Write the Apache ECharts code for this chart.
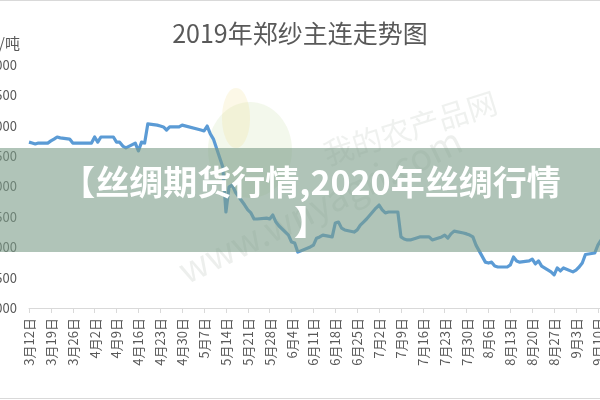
<!DOCTYPE html>
<html><head><meta charset="utf-8">
<script src="https://cdn.jsdelivr.net/npm/echarts@6/dist/echarts.min.js"></script>
<style>html,body{margin:0;padding:0;background:#fff}#c{width:600px;height:400px}</style>
</head><body><div id="c"></div>
<script>
const chartTitle = '2019年郑纱主连走势图';
const unitName = '元/吨';
const yTicks = [20000, 20500, 21000, 21500, 22000, 22500, 23000, 23500, 24000];
const bannerText = '【丝绸期货行情,2020年丝绸行情\n】';
const watermark1 = '我的农产品网';
const watermark2 = 'www.wnyagri.com';

const marDays = [12,13,14,15,18,19,20,21,22,25,26,27,28,29];
const marPrices = [22730,22715,22700,22715,22715,22750,22780,22815,22800,22780,22715,22715,22715,22715];
const aprDays = [1,2,3,4,8,9,10,11,12,15,16,17,18,19,22,23,24,25,26,29,30];
const aprPrices = [22715,22815,22730,22815,22815,22730,22730,22665,22635,22715,22585,22730,22715,23030,23010,22995,22980,22930,22980,22980,23010];
const mayDays = [6,7,8,9,10,13,14,15,16,17,20,21,22,23,24,27,28,29,30,31];
const mayPrices = [22930,22915,22995,22865,22780,22320,21580,21990,22025,21910,21695,21615,21565,21465,21465,21480,21465,21530,21415,21350];
const junDays = [3,4,5,6,10,11,12,13,14,17,18,19,20,21,24,25,26,27,28];
const junPrices = [21200,21085,21070,20920,21005,21035,21150,21170,21200,21170,21400,21415,21315,21285,21250,21285,21365,21415,21465];
const julDays = [1,2,3,4,5,8,9,10,11,12,15,16,17,18,19,22,23,24,25,26,29,30,31];
const julPrices = [21645,21695,21615,21565,21580,21580,21170,21135,21120,21120,21170,21170,21170,21170,21120,21170,21200,21150,21220,21265,21235,21220,21200];
const augDays = [1,2,5,6,7,8,9,12,13,14,15,16,19,20,21,22,23,26,27,28,29,30];
const augPrices = [21170,21035,20755,20740,20755,20690,20675,20675,20710,20840,20775,20755,20775,20805,20725,20775,20690,20595,20545,20660,20610,20660];
const sepDays = [2,3,4,5,6,9,10,11];
const sepPrices = [20595,20625,20675,20740,20880,20905,21035,21120];

// calendar-day categories (date axis, 7-day major unit)
const startMs = Date.UTC(2019, 2, 12);
const nDays = 187;
const categories = [];
for (let i = 0; i < nDays; i++) {
  const d = new Date(startMs + i * 86400000);
  categories.push((d.getUTCMonth() + 1) + '月' + d.getUTCDate() + '日');
}
const monthly = [[3, marDays, marPrices], [4, aprDays, aprPrices], [5, mayDays, mayPrices],
  [6, junDays, junPrices], [7, julDays, julPrices], [8, augDays, augPrices], [9, sepDays, sepPrices]];
const priceMap = {};
monthly.forEach(([m, days, prices]) => days.forEach((d, i) => { priceMap[m + '月' + d + '日'] = prices[i]; }));
const seriesData = categories.map(c => (c in priceMap ? priceMap[c] : null));

const chart = echarts.init(document.getElementById('c'), null, {renderer: 'canvas'});
const FONT = '"Noto Sans CJK SC", "Noto Sans", sans-serif';
chart.setOption({
  animation: false,
  backgroundColor: '#fff',
  title: {
    text: chartTitle, left: 'center', top: 16,
    textStyle: {fontSize: 25, fontWeight: 'normal', color: '#595959', fontFamily: FONT}
  },
  grid: {left: 29, top: 65, width: 581.4, height: 243, containLabel: false, outerBoundsMode: 'none'},
  xAxis: {
    type: 'category', data: categories, boundaryGap: false,
    axisLine: {lineStyle: {color: '#d9d9d9', width: 1}},
    axisTick: {interval: 6, length: 5, lineStyle: {color: '#d9d9d9'}},
    axisLabel: {interval: 6, rotate: 90, color: '#595959', fontSize: 13, margin: 10, fontFamily: FONT},
    splitLine: {show: false}
  },
  yAxis: {
    type: 'value', min: yTicks[0], max: yTicks[yTicks.length - 1], interval: yTicks[1] - yTicks[0],
    axisLine: {show: false}, axisTick: {show: false}, splitLine: {show: false},
    axisLabel: {color: '#595959', fontSize: 13, margin: 12, fontFamily: FONT,
      formatter: v => v.toLocaleString('en-US')}
  },
  series: [{
    type: 'line', data: seriesData, connectNulls: true, showSymbol: false, smooth: false,
    lineStyle: {color: '#5b9bd5', width: 3.2, join: 'round'}, itemStyle: {color: '#5b9bd5'}, z: 3
  }],
  graphic: [
    {type: 'ellipse', shape: {cx: 250, cy: 150, rx: 42, ry: 48}, style: {fill: 'rgba(190,215,150,0.18)'}, z: 1, silent: true},
    {type: 'ellipse', shape: {cx: 236, cy: 118, rx: 14, ry: 30}, style: {fill: 'rgba(240,215,120,0.18)'}, z: 1, silent: true},
    {type: 'text', x: 410, y: 128, rotation: 0.3, z: 1, silent: true,
      style: {text: watermark1, font: '30px ' + FONT, fill: 'rgba(120,140,120,0.12)', align: 'center', verticalAlign: 'middle'}},
    {type: 'text', x: 320, y: 205, rotation: 0.45, z: 1, silent: true,
      style: {text: watermark2, font: '36px ' + FONT, fill: 'rgba(110,120,110,0.12)', align: 'center', verticalAlign: 'middle'}},
    {type: 'text', x: 20, y: 43, z: 5, silent: true,
      style: {text: unitName, font: '15px ' + FONT, fill: '#595959', align: 'right', verticalAlign: 'middle'}},
    {type: 'rect', shape: {x: 0, y: 148, width: 600, height: 104}, style: {fill: 'rgba(123,157,137,0.6)'}, z: 100, silent: true},
    {type: 'text', x: 311, y: 202, z: 101, silent: true,
      style: {text: bannerText, font: 'bold 34px ' + FONT, fill: '#ffffff', align: 'center', verticalAlign: 'middle', lineHeight: 40}},
    {type: 'line', shape: {x1: 0, y1: 0.5, x2: 600, y2: 0.5}, style: {stroke: '#d9d9d9', lineWidth: 1}, z: 102, silent: true},
    {type: 'line', shape: {x1: 0, y1: 398.5, x2: 600, y2: 398.5}, style: {stroke: '#d9d9d9', lineWidth: 1}, z: 102, silent: true}
  ]
});
</script></body></html>
